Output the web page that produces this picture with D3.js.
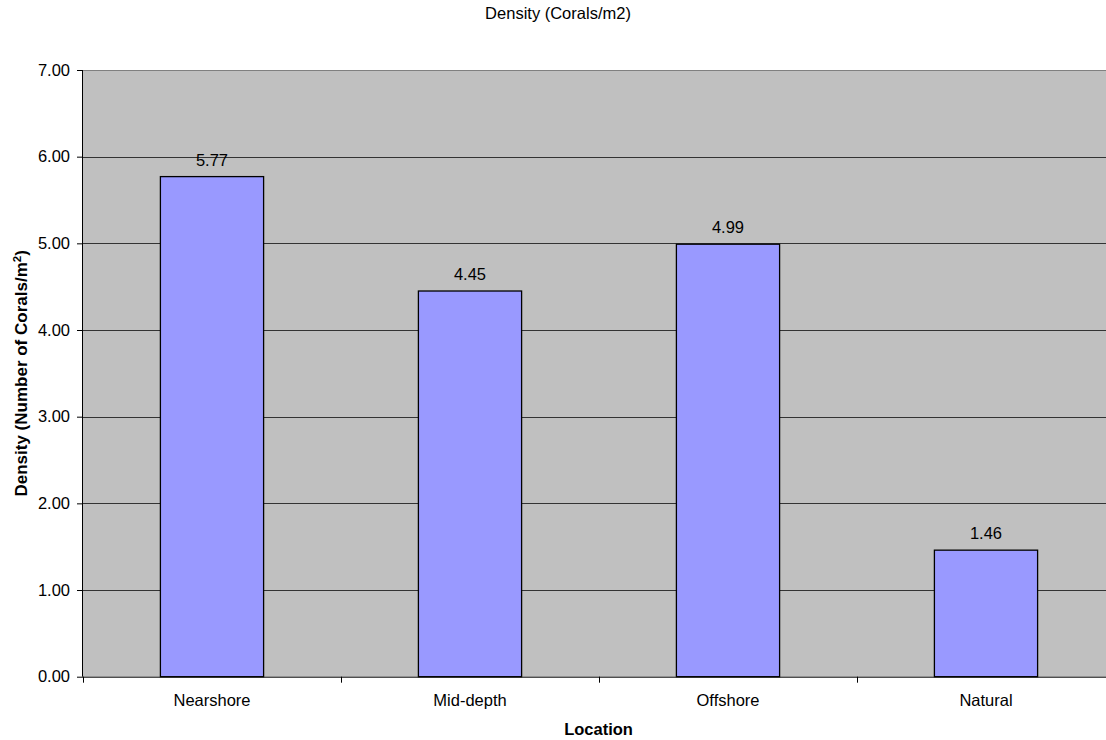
<!DOCTYPE html>
<html>
<head>
<meta charset="utf-8">
<script src="https://cdn.jsdelivr.net/npm/d3@7"></script>
<style>
  html, body { margin: 0; padding: 0; background: #fff; }
  svg { display: block; font-family: "Liberation Sans", Arial, sans-serif; }
</style>
</head>
<body>
<svg id="chart" width="1106" height="740"></svg>
<script>
// Coral density by location
const categories = ["Nearshore", "Mid-depth", "Offshore", "Natural"];
const densities = [5.77, 4.45, 4.99, 1.46];
const yTicks = [0, 1, 2, 3, 4, 5, 6, 7];

const svg = d3.select("#chart");
const plotLeft = 83, plotTop = 70, plotW = 1032, plotH = 606.7;
const fontSize = 16.5;

const x = d3.scaleBand().domain(categories).range([0, plotW]).paddingInner(0.6).paddingOuter(0.3);
const y = d3.scaleLinear().domain([0, 7]).range([plotH, 0]);

const g = svg.append("g").attr("transform", `translate(${plotLeft},${plotTop})`);

// plot background
g.append("rect").attr("x", 0).attr("y", 0).attr("width", plotW).attr("height", plotH)
  .attr("fill", "#c0c0c0");

// horizontal gridlines
g.append("g").selectAll("line").data(yTicks.filter(d => d > 0 && d < 7)).join("line")
  .attr("x1", 0).attr("x2", plotW)
  .attr("y1", d => Math.round(y(d)) + 0.5).attr("y2", d => Math.round(y(d)) + 0.5)
  .attr("stroke", "#333").attr("stroke-width", 1);

// top border of plot area
g.append("line").attr("x1", 0).attr("x2", plotW).attr("y1", 0.5).attr("y2", 0.5)
  .attr("stroke", "#808080").attr("stroke-width", 1);

// bars
g.append("g").selectAll("rect").data(densities).join("rect")
  .attr("x", (d, i) => x(categories[i]))
  .attr("y", d => y(d))
  .attr("width", x.bandwidth())
  .attr("height", d => plotH - y(d))
  .attr("fill", "#9999ff")
  .attr("stroke", "#000").attr("stroke-width", 1.3);

// value labels
g.append("g").selectAll("text").data(densities).join("text")
  .attr("x", (d, i) => x(categories[i]) + x.bandwidth() / 2)
  .attr("y", d => y(d) - 11)
  .attr("text-anchor", "middle")
  .attr("font-size", fontSize).attr("fill", "#000")
  .text(d => d.toFixed(2));

// y axis
const yAxis = d3.axisLeft(y).tickValues(yTicks).tickFormat(d3.format(".2f")).tickSize(6).tickPadding(7);
const ya = g.append("g").call(yAxis);
ya.select(".domain").attr("stroke", "#000").attr("d", `M-0.5,0V${plotH}`);
ya.selectAll(".tick line").attr("stroke", "#000");
ya.selectAll(".tick text").attr("font-size", fontSize).attr("fill", "#000")
  .attr("font-family", "'Liberation Sans', Arial, sans-serif");

// x axis
const xAxis = d3.axisBottom(x).tickSize(0).tickPadding(18);
const xa = g.append("g").attr("transform", `translate(0,${plotH})`).call(xAxis);
xa.select(".domain").attr("stroke", "#000").attr("d", `M0,0.5H${plotW}`);
xa.selectAll(".tick text").attr("font-size", fontSize).attr("fill", "#000")
  .attr("font-family", "'Liberation Sans', Arial, sans-serif");

// category separator ticks
g.append("g").selectAll("line").data(d3.range(categories.length + 1)).join("line")
  .attr("x1", i => Math.round(i * x.step()) + 0.5).attr("x2", i => Math.round(i * x.step()) + 0.5)
  .attr("y1", plotH).attr("y2", plotH + 6)
  .attr("stroke", "#000");

// chart title
svg.append("text").attr("x", 558).attr("y", 19).attr("text-anchor", "middle")
  .attr("font-size", fontSize).attr("fill", "#000").text("Density (Corals/m2)");

// x axis title
svg.append("text").attr("x", 598.5).attr("y", 735).attr("text-anchor", "middle")
  .attr("font-size", fontSize).attr("font-weight", "bold").attr("fill", "#000").text("Location");

// y axis title with superscript
const yt = svg.append("text")
  .attr("transform", `translate(27,${plotTop + plotH / 2}) rotate(-90)`)
  .attr("text-anchor", "middle")
  .attr("font-size", 17).attr("font-weight", "bold").attr("fill", "#000");
yt.append("tspan").text("Density (Number of Corals/m");
yt.append("tspan").attr("baseline-shift", "super").attr("font-size", 11.5).text("2");
yt.append("tspan").text(")");
</script>
</body>
</html>
